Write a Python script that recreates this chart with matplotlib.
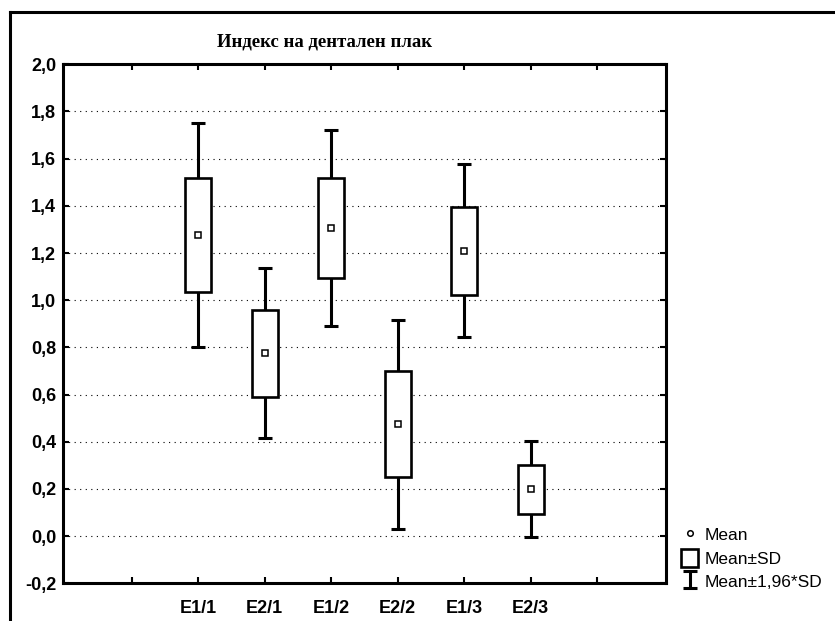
import numpy as np
import matplotlib.pyplot as plt
from matplotlib.lines import Line2D
from matplotlib.patches import Patch
from matplotlib.ticker import FuncFormatter

# group means and standard deviations of the plaque index
groups = ['E1/1', 'E2/1', 'E1/2', 'E2/2', 'E1/3', 'E2/3']
means = [1.276, 0.775, 1.305, 0.475, 1.21, 0.198]
sds = [0.243, 0.184, 0.212, 0.226, 0.187, 0.104]
yticks = [-0.2, 0.0, 0.2, 0.4, 0.6, 0.8, 1.0, 1.2, 1.4, 1.6, 1.8, 2.0]
title = 'Индекс на дентален плак'
legend_labels = ['Mean', 'Mean±SD', 'Mean±1,96*SD']


def plotsetting():
    """
    font settings.
    """
    plt.rcParams.update({'font.family': 'Liberation Sans',
                         'font.size': 13,
                         'font.weight': 'bold'})


def boxplot(filename='out.png'):
    plotsetting()
    fig = plt.figure(figsize=(8.35, 6.21), dpi=100)
    ax = fig.add_axes([0.0758, 0.0607, 0.7214, 0.8358])

    x = np.arange(1, len(groups) + 1)
    m = np.array(means)
    s = np.array(sds)

    # mean +- 1.96*SD whiskers, boxes for mean +- SD, mean markers on top
    eb = ax.errorbar(x, m, yerr=1.96 * s, fmt='none', ecolor='black',
                     elinewidth=2.2, capsize=5, capthick=2.2, zorder=2)
    ax.bar(x, 2 * s, bottom=m - s, width=0.39, facecolor='white',
           edgecolor='black', linewidth=1.9, zorder=3)
    ax.plot(x, m, 's', mfc='white', mec='black', ms=4, mew=1.1, zorder=4)

    ax.set_xlim(-1.03, 8.03)
    ax.set_ylim(-0.2, 2.0)
    ax.set_yticks(yticks)
    ax.yaxis.set_major_formatter(FuncFormatter(lambda v, p: ('%.1f' % v).replace('.', ',')))
    ax.set_xticks(np.arange(0, 8))
    ax.set_xticklabels([''] + groups + [''])
    ax.tick_params(direction='in', length=4, width=1.5, top=True, right=True)
    ax.tick_params(axis='x', pad=12)
    ax.tick_params(axis='y', pad=5)
    for sp in ax.spines.values():
        sp.set_linewidth(2.2)

    for v in yticks[1:-1]:
        ax.axhline(v, color='black', linestyle=(0, (1, 4)), linewidth=0.8, zorder=1)

    fig.text(0.389, 0.932, title, family='Liberation Serif', fontsize=13.5,
             weight='bold', ha='center', va='center')

    # outer frame on the left and top edges
    fig.add_artist(Line2D([0.012, 0.012], [0.0, 0.981], color='black', lw=2.2))
    fig.add_artist(Line2D([0.012, 1.0], [0.981, 0.981], color='black', lw=2.2))

    handles = [Line2D([], [], marker='o', ls='none', mfc='white', mec='black', ms=4, mew=1.1),
               Patch(facecolor='white', edgecolor='black', linewidth=1.9),
               eb]
    ax.legend(handles, legend_labels, loc='upper left',
              bbox_to_anchor=(0.805, 0.168), bbox_transform=fig.transFigure,
              frameon=False, handlelength=1.0, handleheight=1.25,
              handletextpad=0.35, labelspacing=0.28, borderpad=0,
              prop={'family': 'Liberation Sans', 'size': 12.5, 'weight': 'normal'})

    plt.savefig(filename, dpi=100)


boxplot()
